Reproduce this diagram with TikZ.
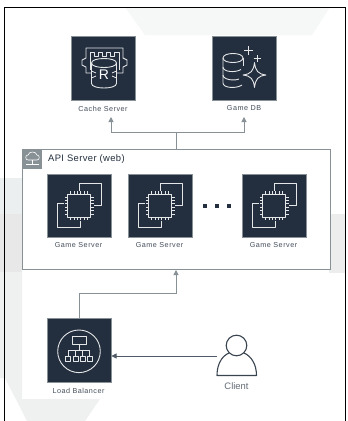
\documentclass[tikz,border=0pt]{standalone}
\usepackage{fontspec}
\setmainfont{Liberation Sans}
\usetikzlibrary{arrows.meta}
\definecolor{navy}{HTML}{232F3E}
\definecolor{linegray}{HTML}{879196}
\definecolor{bandA}{HTML}{ECEFEF}
\definecolor{bandB}{HTML}{E7E8E7}
\definecolor{bandC}{HTML}{EDEDED}
\tikzset{
  x=1pt,y=-1pt,
  iconbox/.style={draw=linegray,line width=.5pt,fill=navy,minimum size=63.5pt,inner sep=0pt,anchor=north west},
  glyph/.style={draw=white!88!navy,line width=.9pt,line join=round},
  captext/.style={font=\fontsize{7.2}{8}\selectfont\addfontfeature{LetterSpace=7},text=navy!85!white,inner sep=0pt},
  link/.style={draw=linegray,line width=1pt,-{Triangle[length=5pt,width=5pt]}},
  plainlink/.style={draw=linegray,line width=1pt},
}
\newcommand{\chipglyph}[1]{%
  \begin{scope}[shift={(#1)}]
    \draw[glyph] (0,-15) -- (0,-22) -- (22.5,-22) -- (22.5,0) -- (15,0);
    \draw[glyph] (1,15) -- (1,22) -- (-21.5,22) -- (-21.5,-2) -- (-15,-2);
    \draw[glyph] (-11.5,-11.5) rectangle (11.5,11.5);
    \foreach \t in {-8.5,-5,-1.7,1.7,5,8.5}{
      \draw[glyph,line width=.7pt] (\t,-11.5) -- (\t,-14.5) (\t,11.5) -- (\t,14.5) (-11.5,\t) -- (-14.5,\t) (11.5,\t) -- (14.5,\t);
    }
  \end{scope}}
\begin{document}
\begin{tikzpicture}
\useasboundingbox (0,0) rectangle (348,421);
\fill[white] (0,0) rectangle (348,421);
% faint backdrop
\fill[bandA!50!white] (125,7) -- (145,35) -- (312,35) -- (330,7) -- cycle;
\fill[bandA] (0,178) rectangle (22,214);
\fill[bandB] (0,214) rectangle (22,272);
\fill[bandC] (329,214) rectangle (345,273);
\fill[bandA!85!white] (0,272) -- (22,272) -- (22,399) -- (100,399) -- (85,421) -- (27,421) -- (5,378) -- (0,378) -- cycle;
% frame
\draw[black,line width=1.2pt] (4.5,421) -- (4.5,7.5) -- (345.5,7.5) -- (345.5,421);
% API group
\node[draw=linegray,line width=.8pt,fill=white,minimum width=307.5pt,minimum height=120.5pt,inner sep=0pt,anchor=north west] (api) at (22,148.5) {};
\node[fill=linegray,minimum size=20pt,inner sep=0pt,anchor=north west] (cloud) at (22,148.5) {};
\draw[white,line width=.6pt] (28,160) .. controls (25,160) and (25,155) .. (28,155) .. controls (29,151) and (36,151) .. (37,155) .. controls (40,155) and (40,160) .. (37,160) -- (28,160);
\draw[white,line width=.6pt] (32.5,160) -- (32.5,164) (26,164) -- (39,164);
\node[anchor=west,inner sep=0pt,font=\fontsize{9.4}{10}\selectfont\addfontfeature{LetterSpace=4},text=navy] (apilabel) at (48,159) {API Server (web)};
% icons
\node[iconbox] (cache) at (71,36) {};
\node[iconbox] (db) at (212,36) {};
\node[iconbox] (gs1) at (47,173.5) {};
\node[iconbox] (gs2) at (128,173.5) {};
\node[iconbox] (gs3) at (242,173.5) {};
\node[iconbox] (lb) at (47,318) {};
% captions
\node[captext] (cachecap) at (103,108.5) {Cache Server};
\node[captext] (dbcap) at (244,108.5) {Game DB};
\node[captext] (gs1cap) at (78.5,245.5) {Game Server};
\node[captext] (gs2cap) at (159.5,245.5) {Game Server};
\node[captext] (gs3cap) at (273.5,245.5) {Game Server};
\node[captext] (lbcap) at (78.5,390.5) {Load Balancer};
% dots
\foreach \x in {202.5,214.5,226.5}{\fill[navy] (\x,203.5) rectangle +(4,4);}
% chips
\chipglyph{gs1.center}
\chipglyph{gs2.center}
\chipglyph{gs3.center}
% cache glyph
\begin{scope}[shift={(cache.center)}]
  \draw[glyph] (-10,5) -- (-17,5) -- (-17,-1) -- (-21,-3) -- (-21,-8) -- (-17,-10) -- (-17,-20) -- (20,-20) -- (20,-10) -- (24,-8) -- (24,-3) -- (20,-1) -- (20,5) -- (13,5);
  \draw[glyph,line width=.8pt] (-13,2) -- (-13,-16) -- (-9,-16) -- (-9,-12) -- (-5,-12) -- (-5,-16) -- (-1,-16) -- (-1,-12) -- (3,-12) -- (3,-16) -- (7,-16) -- (7,-12) -- (11,-12) -- (11,-16) -- (16,-16) -- (16,2);
  \draw[glyph,fill=navy] (-11.5,-5) -- (-11.5,15.5) .. controls (-11.5,21.5) and (13.5,21.5) .. (13.5,15.5) -- (13.5,-5) .. controls (13.5,-11) and (-11.5,-11) .. (-11.5,-5) -- cycle;
  \draw[glyph] (-11.5,-5) .. controls (-11.5,1) and (13.5,1) .. (13.5,-5);
  \draw[glyph,line width=.8pt] (-11.5,3) -- (-7,5) (-11.5,10) -- (-7,8) (13.5,3) -- (9,5) (13.5,10) -- (9,8);
  \node[inner sep=0pt,text=white,font=\fontsize{14}{14}\selectfont] at (1,7) (cacheR) {R};
\end{scope}
% db glyph
\begin{scope}[shift={(db.center)}]
  \draw[glyph] (-21,-10) .. controls (-21,-16) and (-1,-16) .. (-1,-10) .. controls (-1,-4) and (-21,-4) .. (-21,-10) -- cycle;
  \draw[glyph] (-21,-10) -- (-21,15) .. controls (-21,20) and (-8,21) .. (-2,17);
  \draw[glyph] (-1,-10) -- (-1,-2);
  \draw[glyph] (-21,-1) .. controls (-21,4) and (-9,5) .. (-3,1.5);
  \draw[glyph] (-21,7) .. controls (-21,12) and (-9,13) .. (-5,11);
  \draw[glyph] (10.5,-5.5) .. controls (11.5,3) and (14,6) .. (22,7) .. controls (14,8) and (11.5,11) .. (10.5,19.5) .. controls (9.5,11) and (7,8) .. (-1,7) .. controls (7,6) and (9.5,3) .. (10.5,-5.5) -- cycle;
  \draw[glyph,line width=.8pt] (4.5,-22) -- (4.5,-13) (0,-17.5) -- (9,-17.5) (13,-13) -- (13,-6) (9.5,-9.5) -- (16.5,-9.5);
\end{scope}
% load balancer glyph
\begin{scope}[shift={(lb.center)},yshift=-1.3pt]
  \draw[glyph] (0,0) circle (21.3);
  \draw[glyph] (-7,-15) rectangle (7,-6.5);
  \draw[glyph,line width=.8pt] (0,-6.5) -- (0,-0.5) (-10.7,5) -- (-10.7,-0.5) -- (10.7,-0.5) -- (10.7,5) (-3.6,5) -- (-3.6,-0.5) (3.6,-0.5) -- (3.6,5);
  \foreach \x in {-10.7,-3.6,3.6,10.7}{\draw[glyph,line width=.8pt] (\x-2.5,5) rectangle (\x+2.5,10.5);}
\end{scope}
% client
\coordinate (clienthand) at (216.5,356);
\coordinate (clientspot) at (236.5,345.5);
\draw[navy!90!white,line width=1.1pt] (clientspot) circle (10.3);
\draw[navy!90!white,line width=1.1pt,line join=round] (229,353) .. controls (222,356) and (217,364) .. (217,375.5) -- (256.5,375.5) .. controls (256.5,364) and (251,356) .. (244,353);
\node[inner sep=0pt,font=\fontsize{9.4}{10}\selectfont,text=navy!70!white] (clientcap) at (236.5,386.5) {Client};
% connectors
\coordinate (split) at (176,132.5);
\coordinate (cachein) at (111,132.5);
\coordinate (dbin) at (244,132.5);
\coordinate (cachetip) at (111,117);
\coordinate (dbtip) at (244,117);
\coordinate (apiin) at (176,270);
\coordinate (apiout) at (176,148.5);
\coordinate (lbout) at (79,318);
\draw[plainlink] (apiout) -- (split);
\draw[link] (split) -- (cachein) -- (cachetip);
\draw[link] (split) -- (dbin) -- (dbtip);
\draw[link] (lbout) -- (79,293.5) -- (176,293.5) -- (apiin);
\draw[draw=navy!80!white,line width=.7pt,-{Triangle[length=5pt,width=5pt]}] (clienthand) -- (111.5,356);
\end{tikzpicture}
\end{document}
